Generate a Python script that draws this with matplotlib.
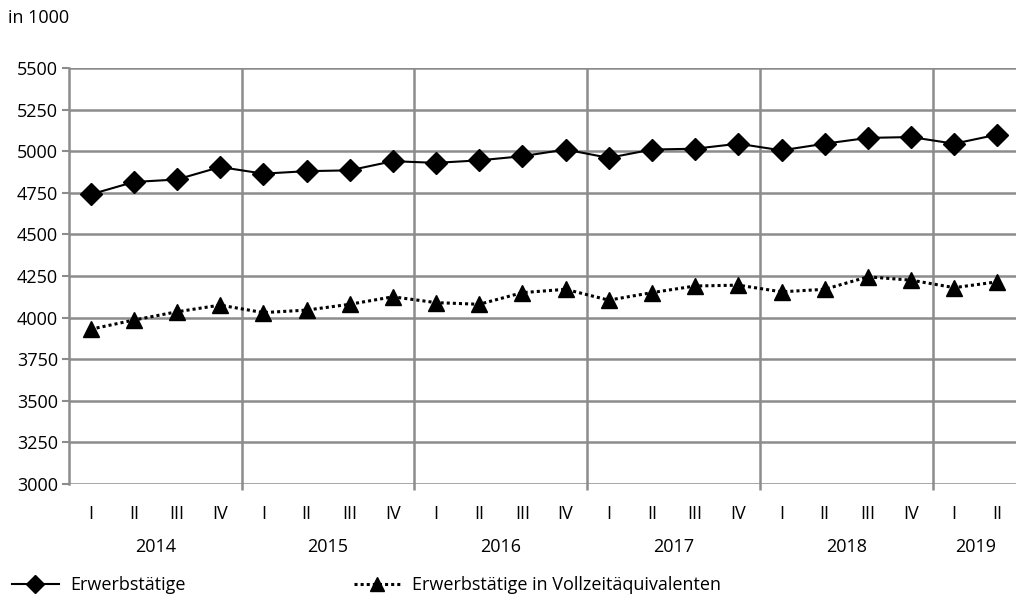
import matplotlib.pyplot as plt
from matplotlib.lines import Line2D

plt.rcParams['font.family'] = ['Open Sans', 'DejaVu Sans']

# data (in 1000)
quarters = ['I', 'II', 'III', 'IV'] * 5 + ['I', 'II']
years = ['2014', '2015', '2016', '2017', '2018', '2019']
erwerbstaetige = [4740, 4815, 4830, 4905, 4865, 4880, 4885, 4940,
                  4930, 4945, 4970, 5010, 4960, 5010, 5015, 5045,
                  5005, 5045, 5080, 5085, 5045, 5100]
vollzeit = [3930, 3985, 4035, 4075, 4030, 4045, 4080, 4125,
            4090, 4080, 4150, 4170, 4105, 4150, 4190, 4195,
            4155, 4170, 4245, 4225, 4180, 4215]
yticks = list(range(3000, 5501, 250))

grid_col = '#8c8c8c'
fs = 13

fig = plt.figure(figsize=(10.16, 5.96), dpi=100)
ax = fig.add_axes([69 / 1016, 1 - 484 / 596, 950 / 1016, 416 / 596])

x = list(range(len(quarters)))
ax.plot(x, erwerbstaetige, color='black', lw=1.5, marker='D', ms=11,
        label='Erwerbstätige', zorder=3)
ax.plot(x, vollzeit, color='black', lw=2.2, ls=(0, (1, 1)), marker='^', ms=12,
        label='Erwerbstätige in Vollzeitäquivalenten', zorder=3)

ax.set_xlim(-0.5, len(quarters) - 0.5)
ax.set_ylim(3000, 5500)
ax.set_yticks(yticks)
ax.set_xticks(x)
ax.set_xticklabels(quarters)

for yv in yticks:
    ax.axhline(yv, color=grid_col, lw=1.8, zorder=1)
# year separators, reaching slightly below the axis
for i in range(1, len(years)):
    ax.vlines(4 * i - 0.5, -0.015, 1, transform=ax.get_xaxis_transform(),
              color=grid_col, lw=1.8, clip_on=False, zorder=1)

for s in ['top', 'right', 'bottom']:
    ax.spines[s].set_visible(False)
ax.spines['left'].set_color(grid_col)
ax.spines['left'].set_linewidth(1.8)

ax.tick_params(axis='y', length=5, width=1.5, color=grid_col, labelsize=fs, pad=3)
ax.tick_params(axis='x', length=0, labelsize=fs, pad=15)

# year labels centred under their quarters
for i, yr in enumerate(years):
    n = min(4, len(quarters) - 4 * i)
    ax.text(4 * i + (n - 1) / 2, -(547 - 484) / 416, yr,
            transform=ax.get_xaxis_transform(), ha='center', va='center',
            fontsize=fs)

fig.text(8 / 1016, 1 - 18 / 596, 'in 1000', fontsize=fs, va='center', ha='left')

h1 = Line2D([], [], color='black', lw=1.5, marker='D', ms=9)
h2 = Line2D([], [], color='black', lw=2.2, ls=(0, (1, 1)), marker='^', ms=10)
fig.legend([h1], ['Erwerbstätige'], loc='center left', frameon=False,
           bbox_to_anchor=(12 / 1016, 1 - 585 / 596), fontsize=fs,
           handlelength=2.6, handletextpad=0.6, borderaxespad=0, borderpad=0)
fig.legend([h2], ['Erwerbstätige in Vollzeitäquivalenten'], loc='center left',
           frameon=False, bbox_to_anchor=(354 / 1016, 1 - 585 / 596), fontsize=fs,
           handlelength=2.6, handletextpad=0.6, borderaxespad=0, borderpad=0)

fig.savefig('out.png', dpi=100)
